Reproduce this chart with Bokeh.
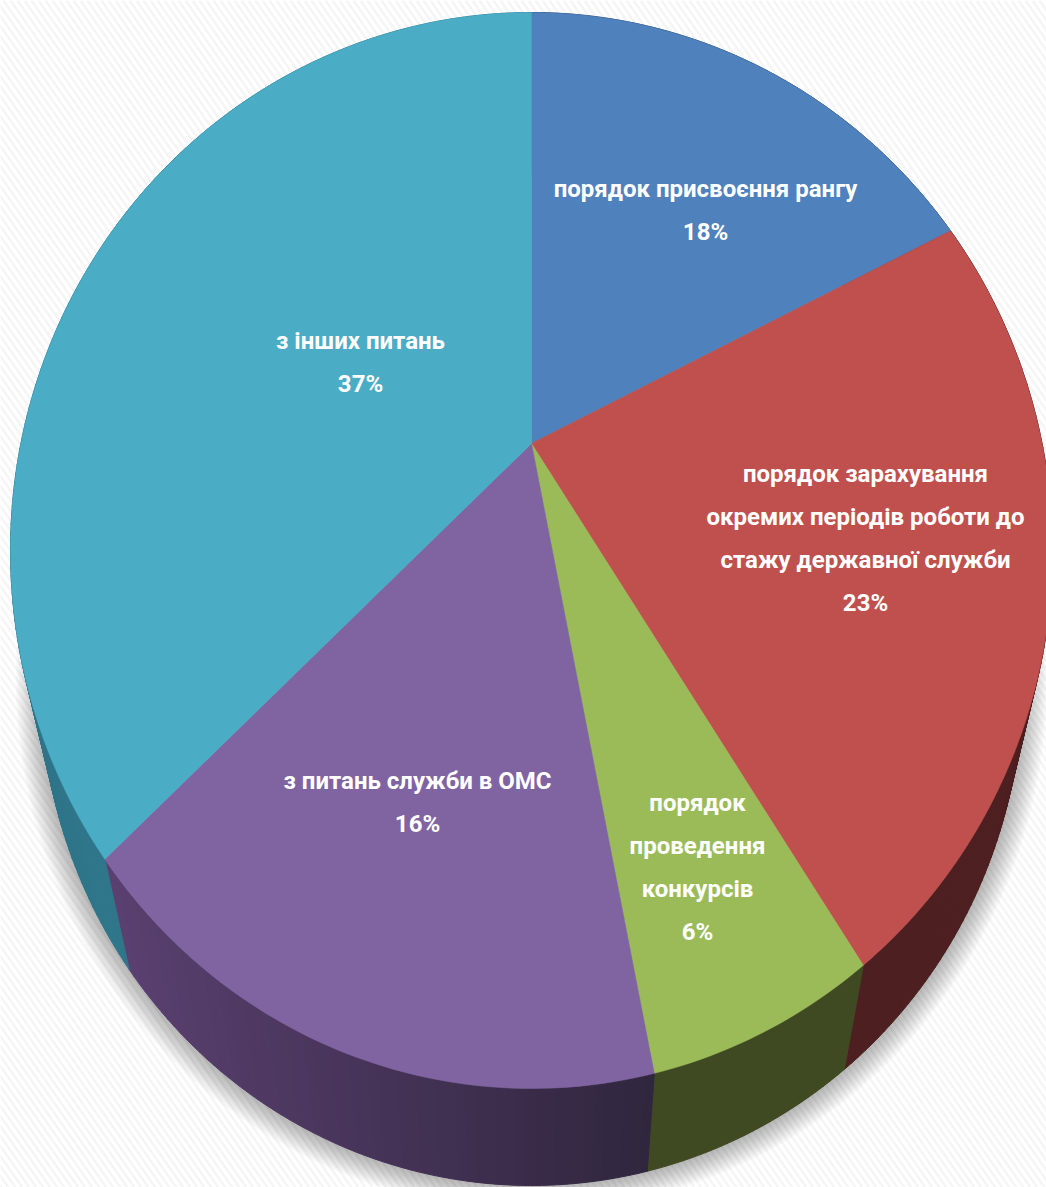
from bokeh.plotting import figure
from bokeh.embed import file_html
from bokeh.resources import INLINE
from bokeh.core.properties import value
import numpy as np

# ---- data ----
categories = ["порядок присвоєння рангу",
              "порядок зарахування окремих періодів роботи до стажу державної служби",
              "порядок проведення конкурсів",
              "з питань служби в ОМС",
              "з інших питань"]
shares = [17.6, 23.3, 6.0, 15.9, 37.2]
percent_labels = ["18%", "23%", "6%", "16%", "37%"]
label_lines = [["порядок присвоєння рангу"],
               ["порядок зарахування", "окремих періодів роботи до", "стажу державної служби"],
               ["порядок", "проведення", "конкурсів"],
               ["з питань служби в ОМС"],
               ["з інших питань"]]

# ---- style ----
top_colors = ["#4f81bd", "#c0504d", "#9bbb59", "#8064a2", "#4bacc6"]
side_left = ["#2c4a6e", "#4e1f20", "#3f4a22", "#5a4070", "#2f7488"]
side_right = ["#2c4a6e", "#4e1f20", "#3f4a22", "#30263e", "#338196"]

# ---- layout (page pixels) ----
W, H = 1046, 1187
CX, APEX_Y, TOP_Y, BOT_Y, RX = 531.0, 443.0, 12.0, 1088.0, 510.6
VP_Y, DEPTH = 2790.0, 0.943
label_centres = [(705, 188), (865, 473), (697, 802), (417, 780), (360, 340)]
LINE_GAP = 43.3
FONT = "Roboto"
FONT_SIZE = "24px"

# perspective projection of the flat pie disc to the page
C = (TOP_Y + BOT_Y - 2 * APEX_Y) / (BOT_Y - TOP_Y)
A = TOP_Y * (1 + C) - APEX_Y


def project(frac):
    th = 2 * np.pi * np.asarray(frac)
    u, v = np.sin(th), np.cos(th)
    w = 1 + C * v
    return CX + RX * u / w, (A * v + APEX_Y) / w


def lower(x, y):
    return CX + (x - CX) * DEPTH, VP_Y - (VP_Y - y) * DEPTH


def mix(c1, c2, t):
    a = [int(c1[i:i + 2], 16) for i in (1, 3, 5)]
    b = [int(c2[i:i + 2], 16) for i in (1, 3, 5)]
    return "#%02x%02x%02x" % tuple(int(round(p + (q - p) * t)) for p, q in zip(a, b))


p = figure(width=W, height=H, x_range=(0, W), y_range=(H, 0),
           output_backend="svg", toolbar_location=None, min_border=0)
p.axis.visible = False
p.grid.visible = False
p.outline_line_color = None

# woven background: faint diagonal stripes on white
p.quad(left=[0], right=[W], top=[0], bottom=[H], fill_color="#ffffff", line_color=None)
starts = np.arange(-900, W, 7.0)
p.multi_line([[s, s + 0.7 * H] for s in starts], [[0, H] for _ in starts],
             line_color="#f5f5f5", line_width=2.5)

# soft shadow under the pie
full = np.linspace(0, 1, 361)
ox, oy = lower(*project(full))
cy = (oy.min() + oy.max()) / 2
for s in np.linspace(1.05, 1.0, 16):
    p.patch(CX + (ox - CX) * s, cy + (oy - cy) * s, fill_color="#000000", fill_alpha=0.02, line_color=None)

edges = np.concatenate([[0], np.cumsum(shares)]) / np.sum(shares)

# side wall
for i in range(len(shares)):
    f = np.linspace(edges[i], edges[i + 1], max(8, int(shares[i] * 4)) + 1)
    x, y = project(f)
    lx, ly = lower(x, y)
    xmin, xmax = x.min(), x.max()
    xs, ys, cols = [], [], []
    for k in range(len(f) - 1):
        xs.append([x[k], x[k + 1], lx[k + 1], lx[k]])
        ys.append([y[k], y[k + 1], ly[k + 1], ly[k]])
        t = ((x[k] + x[k + 1]) / 2 - xmin) / max(xmax - xmin, 1)
        cols.append(mix(side_left[i], side_right[i], t))
    p.patches(xs, ys, fill_color=cols, line_color=cols, line_width=1)

# top faces
for i in range(len(shares)):
    f = np.linspace(edges[i], edges[i + 1], max(12, int(shares[i] * 4)) + 1)
    x, y = project(f)
    p.patch(np.concatenate([[CX], x]), np.concatenate([[APEX_Y], y]),
            fill_color=top_colors[i], line_color=top_colors[i], line_width=0.5)

# labels
tx, ty, tt = [], [], []
for (cx, cy0), lines, pct in zip(label_centres, label_lines, percent_labels):
    for j, line in enumerate(lines + [pct]):
        tx.append(cx)
        ty.append(cy0 + j * LINE_GAP)
        tt.append(line)
p.text(tx, ty, text=tt, text_color="#ffffff", text_align="center", text_baseline="middle",
       text_font=value(FONT), text_font_style="bold", text_font_size=FONT_SIZE)

open("out.html", "w").write(file_html(p, INLINE))
